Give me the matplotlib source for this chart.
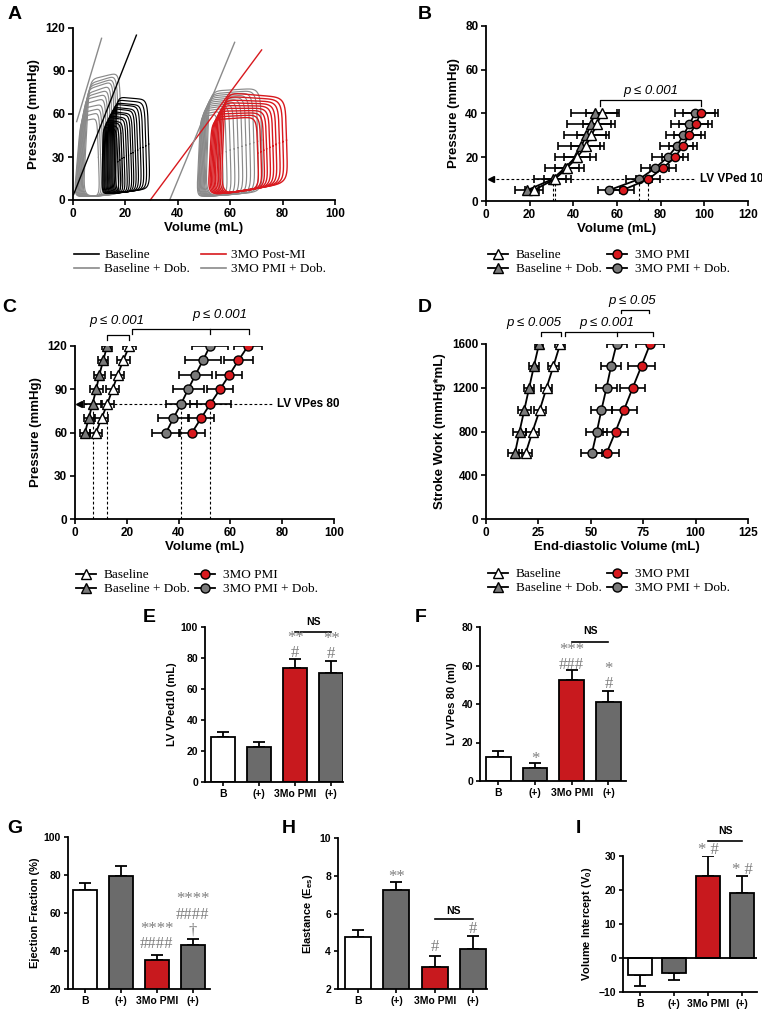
import numpy as np
import matplotlib
matplotlib.use('Agg')
import matplotlib.pyplot as plt
from matplotlib.lines import Line2D

W, H = 762, 1011
plt.rcParams['font.family'] = ['Liberation Sans', 'DejaVu Sans']
plt.rcParams['font.weight'] = 'bold'
plt.rcParams['axes.labelweight'] = 'bold'
plt.rcParams['axes.linewidth'] = 1.3
plt.rcParams['xtick.major.width'] = 1.2
plt.rcParams['ytick.major.width'] = 1.2
plt.rcParams['xtick.major.size'] = 3.5
plt.rcParams['ytick.major.size'] = 3.5
plt.rcParams['xtick.major.pad'] = 2
plt.rcParams['ytick.major.pad'] = 2
SERIF = ['Liberation Serif', 'DejaVu Serif']

RED = '#d8191e'
RED_BAR = '#c8191e'
GRAY_LINE = '#8a8a8a'
GRAY_DOT = '#7a7a7a'
GRAY_BAR = '#6b6b6b'
STAR = '#7f7f7f'

# ---------------- data ----------------
# A: pressure-volume loops (left/right volume, top-left / top-right / end-diastolic pressure)
base_ves = [11.0, 11.3, 11.7, 12.0, 12.4, 12.8, 13.1, 13.5, 13.9, 14.3, 14.7, 15.1, 15.6, 16.1]
base_ved = [17.6, 18.4, 19.2, 20.0, 20.9, 21.7, 22.6, 23.4, 24.3, 25.2, 26.2, 27.2, 28.3, 29.4]
base_pes = [51, 53, 55, 56, 58, 59, 61, 62, 64, 65, 67, 68, 70, 72]
base_ptop = [49, 51, 53, 54, 56, 57, 59, 60, 62, 63, 65, 66, 68, 70]
base_ped = [4.6, 4.8, 5.0, 5.2, 5.4, 5.6, 5.9, 6.1, 6.4, 6.7, 7.0, 7.3, 7.7, 8.1]

dob_ves = [0.4, 0.7, 1.0, 1.3, 1.6, 1.9, 2.2, 2.5, 2.8, 3.1, 3.4, 3.8]
dob_ved = [10.2, 11.0, 11.8, 12.5, 13.3, 14.0, 14.8, 15.5, 16.3, 17.0, 17.8, 18.8]
dob_pes = [55, 58, 61, 64, 67, 70, 72, 74, 77, 79, 81, 84]
dob_ptop = [57, 61, 64, 67, 71, 74, 77, 80, 83, 85, 87, 89]
dob_ped = [2.5, 2.6, 2.8, 2.9, 3.0, 3.2, 3.3, 3.5, 3.6, 3.8, 4.0, 4.2]

pmi_ves = [51.5, 52.0, 52.5, 53.0, 53.5, 54.0, 54.6, 55.2, 55.8, 56.5]
pmi_ved = [71.0, 72.2, 73.3, 74.4, 75.6, 76.8, 78.0, 79.3, 80.6, 82.0]
pmi_pes = [56, 58, 60, 62, 64, 66, 68, 70, 72.5, 75]
pmi_ptop = [58, 59.5, 61, 62.5, 64, 65.5, 67, 68.5, 70, 71.5]
pmi_ped = [7.5, 8.0, 8.5, 9.0, 9.5, 10.0, 10.5, 11.0, 11.5, 12.0]

pmid_ves = [47.2, 47.5, 47.8, 48.0, 48.3, 48.6, 48.9, 49.2, 49.5, 49.8, 50.2, 50.6]
pmid_ved = [56.0, 57.5, 59.0, 60.5, 62.0, 63.5, 65.0, 66.5, 68.0, 69.5, 71.0, 72.5]
pmid_pes = [58, 60, 62, 63.5, 65, 66.5, 68, 69.5, 71, 72.5, 74, 76]
pmid_ptop = [60, 62, 64, 66, 67.5, 69, 70.5, 72, 73.5, 75, 76.5, 78]
pmid_ped = [3.0, 3.2, 3.4, 3.6, 3.8, 4.0, 4.3, 4.6, 4.9, 5.2, 5.5, 5.8]

# ESPVR lines (volume, pressure at both ends)
espvr_v = [[0.2, 24.2], [1.4, 10.9], [29.5, 72.0], [36.9, 61.7]]
espvr_p = [[3.7, 115.0], [54.7, 112.8], [0.0, 104.7], [0.0, 110.0]]

# B: EDPVR
b_pres = [5, 10, 15, 20, 25, 30, 35, 40]
b_base = [22.0, 31.5, 37.0, 41.8, 45.6, 48.3, 50.8, 53.0]
b_base_err = [4.0, 5.0, 5.5, 6.0, 6.5, 6.5, 6.5, 7.0]
b_dob = [19.0, 30.5, 36.0, 41.0, 43.6, 46.0, 48.0, 49.8]
b_dob_err = [5.5, 8.5, 9.0, 9.5, 10.5, 10.5, 11.0, 11.0]
b_pmi = [62.6, 74.4, 80.9, 86.6, 90.1, 93.1, 96.0, 98.3]
b_pmi_err = [5.0, 5.5, 6.0, 6.0, 6.5, 7.0, 7.5, 8.0]
b_pmid = [56.5, 70.2, 77.4, 83.2, 87.3, 90.4, 93.1, 95.7]
b_pmid_err = [5.0, 6.0, 6.5, 7.0, 7.5, 8.0, 8.5, 9.0]

# C: ESPVR
c_pres = [60, 70, 80, 90, 100, 110, 120]
c_base = [8.1, 10.3, 12.5, 14.5, 16.5, 18.6, 21.0]
c_base_err = [2.5, 2.5, 2.5, 2.5, 2.5, 2.5, 2.5]
c_dob = [3.9, 5.3, 6.8, 8.2, 9.4, 10.9, 12.4]
c_dob_err = [2.0, 2.0, 3.5, 2.5, 2.0, 2.0, 2.0]
c_pmi = [45.2, 48.7, 52.3, 56.0, 59.6, 63.1, 66.8]
c_pmi_err = [5.0, 5.0, 8.0, 5.0, 5.0, 5.5, 5.5]
c_pmid = [35.2, 38.0, 41.0, 43.7, 46.5, 49.4, 52.1]
c_pmid_err = [5.5, 6.0, 6.0, 6.0, 6.5, 7.0, 7.0]

# D: PRSW
d_sw = [600, 800, 1000, 1200, 1400, 1600]
d_base = [18.9, 22.2, 25.7, 28.9, 32.2, 35.4]
d_base_err = [3.0, 3.0, 3.0, 2.5, 2.5, 2.5]
d_dob = [13.8, 16.0, 18.3, 20.6, 22.9, 25.3]
d_dob_err = [3.5, 3.0, 3.0, 2.5, 2.5, 2.0]
d_pmi = [57.5, 61.8, 65.9, 70.0, 74.2, 78.3]
d_pmi_err = [6.0, 6.0, 6.0, 6.0, 6.5, 6.5]
d_pmid = [50.5, 52.9, 55.1, 57.5, 59.7, 62.3]
d_pmid_err = [5.0, 5.0, 5.0, 5.0, 4.8, 4.8]

# E-I: bar charts
bar_labels = ['B', '(+)', '3Mo PMI', '(+)']
bar_colors = ['white', GRAY_BAR, RED_BAR, GRAY_BAR]
e_vals = [29.0, 22.5, 73.5, 70.5]
e_err = [3.5, 3.5, 6.0, 7.5]
f_vals = [12.5, 7.0, 52.5, 41.0]
f_err = [3.0, 2.5, 5.0, 6.0]
g_vals = [72.0, 79.5, 35.5, 43.0]
g_err = [4.0, 5.0, 2.5, 3.5]
h_vals = [4.75, 7.25, 3.15, 4.1]
h_err = [0.4, 0.4, 0.6, 0.7]
i_vals = [-5.0, -4.5, 24.0, 19.0]
i_err = [3.3, 2.0, 6.0, 5.0]

leg_labels = ['Baseline', 'Baseline + Dob.', '3MO PMI', '3MO PMI + Dob.']

fig = plt.figure(figsize=(W / 100, H / 100), dpi=100)


def add_ax(l, t, r, b):
    ax = fig.add_axes([l / W, 1 - b / H, (r - l) / W, (b - t) / H])
    ax.spines['top'].set_visible(False)
    ax.spines['right'].set_visible(False)
    return ax


def letter(x, y, s):
    fig.text(x / W, 1 - y / H, s, fontsize=14, weight='bold', va='top', ha='left')


def pv_loop(ax, ves, ved, pes, ptop, ped, pmin, shift, color, lw=0.85, sq=0.3):
    t = np.linspace(0, 2 * np.pi, 300)
    c, s = np.cos(t), np.sin(t)
    u = (np.sign(c) * np.abs(c) ** sq + 1) / 2
    v = (np.sign(s) * np.abs(s) ** sq + 1) / 2
    bl = np.array([ves, pmin])
    br = np.array([ved, ped])
    tr = np.array([ved - 1.0, ptop])
    tl = np.array([ves + shift, pes])
    pts = (((1 - u) * (1 - v))[:, None] * bl + (u * (1 - v))[:, None] * br
           + (u * v)[:, None] * tr + ((1 - u) * v)[:, None] * tl)
    ax.plot(pts[:, 0], pts[:, 1], color=color, lw=lw)


def style_ticks(ax, size=8.5):
    ax.tick_params(labelsize=size)
    for lab in ax.get_xticklabels() + ax.get_yticklabels():
        lab.set_fontweight('bold')


def bracket(ax, x1, x2, y, drop, mids=()):
    ax.plot([x1, x1, x2, x2], [y - drop, y, y, y - drop], color='black', lw=0.9, clip_on=False)
    for m in mids:
        ax.plot([m, m], [y, y - drop], color='black', lw=0.9, clip_on=False)


def pval(ax, x, y, s):
    ax.text(x, y, s, ha='center', va='bottom', fontsize=9.5, style='italic',
            weight='normal', clip_on=False)


def series(ax, xs, ys, errs, marker, face, ms):
    ax.errorbar(xs, ys, xerr=errs, fmt='none', ecolor='black', elinewidth=1.2,
                capsize=3, capthick=1.2, zorder=2)
    ax.plot(xs, ys, color='black', lw=1.3, marker=marker, mfc=face, mec='black',
            ms=ms, mew=1.0, zorder=3)


def legend_markers(x, y):
    hs = [Line2D([], [], color='black', lw=1.3, marker='^', mfc='white', mec='black', ms=6.5),
          Line2D([], [], color='black', lw=1.3, marker='^', mfc=GRAY_DOT, mec='black', ms=6.5),
          Line2D([], [], color='black', lw=1.3, marker='o', mfc=RED, mec='black', ms=6.5),
          Line2D([], [], color='black', lw=1.3, marker='o', mfc=GRAY_DOT, mec='black', ms=6.5)]
    fig.legend(hs, leg_labels, loc='upper left', bbox_to_anchor=(x / W, 1 - y / H),
               ncol=2, frameon=False, prop={'family': SERIF, 'size': 9.5, 'weight': 'normal'},
               handlelength=1.5, handletextpad=0.6, columnspacing=0.4, labelspacing=0.15,
               borderpad=0, borderaxespad=0)


# ---------------- A ----------------
ax = add_ax(73, 28, 335, 200)
for i in range(len(dob_ves)):
    pv_loop(ax, dob_ves[i], dob_ved[i], dob_pes[i], dob_ptop[i], dob_ped[i], 2.5, 2.5, GRAY_LINE)
for i in range(len(base_ves)):
    pv_loop(ax, base_ves[i], base_ved[i], base_pes[i], base_ptop[i], base_ped[i], 4.5, 0.5, 'black')
for i in range(len(pmid_ves)):
    pv_loop(ax, pmid_ves[i], pmid_ved[i], pmid_pes[i], pmid_ptop[i], pmid_ped[i], 2.5, 1.5, GRAY_LINE)
for i in range(len(pmi_ves)):
    pv_loop(ax, pmi_ves[i], pmi_ved[i], pmi_pes[i], pmi_ptop[i], pmi_ped[i], 3.5, 1.5, RED, lw=1.0)
for vv, pp, col in zip(espvr_v, espvr_p, ['black', GRAY_LINE, RED, GRAY_LINE]):
    ax.plot(vv, pp, color=col, lw=1.0, clip_on=False)
ax.set_xlim(0, 100)
ax.set_ylim(0, 120)
ax.set_xticks(range(0, 101, 20))
ax.set_yticks(range(0, 121, 30))
ax.set_xlabel('Volume (mL)', fontsize=9.5, labelpad=2)
ax.set_ylabel('Pressure (mmHg)', fontsize=9.5, labelpad=4)
style_ticks(ax)
letter(8, 6, 'A')
hs = [Line2D([], [], color='black', lw=1.2), Line2D([], [], color=GRAY_LINE, lw=1.2),
      Line2D([], [], color=RED, lw=1.2), Line2D([], [], color=GRAY_LINE, lw=1.2)]
fig.legend(hs, ['Baseline', 'Baseline + Dob.', '3MO Post-MI', '3MO PMI + Dob.'],
           loc='upper left', bbox_to_anchor=(74 / W, 1 - 249 / H), ncol=2, frameon=False,
           prop={'family': SERIF, 'size': 9.5, 'weight': 'normal'}, handlelength=1.9,
           handletextpad=0.4, columnspacing=0.8, labelspacing=0.15, borderpad=0, borderaxespad=0)

# ---------------- B ----------------
ax = add_ax(486, 26, 748, 201)
dash = (0, (2.5, 2))
ax.plot([2.5, 96], [10, 10], color='black', lw=0.8, ls=dash, clip_on=False)
ax.plot([2.5], [10], marker='<', color='black', ms=5, clip_on=False)
for s in [b_base, b_dob, b_pmi, b_pmid]:
    ax.plot([s[1], s[1]], [0, 10], color='black', lw=0.8, ls=dash)
ax.text(98, 10, 'LV VPed 10', fontsize=8.5, weight='bold', va='center', clip_on=False)
series(ax, b_dob, b_pres, b_dob_err, '^', GRAY_DOT, 6.5)
series(ax, b_base, b_pres, b_base_err, '^', 'white', 6.5)
series(ax, b_pmid, b_pres, b_pmid_err, 'o', GRAY_DOT, 6)
series(ax, b_pmi, b_pres, b_pmi_err, 'o', RED, 6)
bracket(ax, 52, 98.5, 46, 2.5)
pval(ax, 75.5, 47.5, 'p ≤ 0.001')
ax.set_xlim(0, 120)
ax.set_ylim(0, 80)
ax.set_xticks(range(0, 121, 20))
ax.set_yticks(range(0, 81, 20))
ax.set_xlabel('Volume (mL)', fontsize=9.5, labelpad=2)
ax.set_ylabel('Pressure (mmHg)', fontsize=9.5, labelpad=4)
style_ticks(ax)
letter(418, 6, 'B')
legend_markers(488, 249)

# ---------------- C ----------------
ax = add_ax(75, 346, 334, 519)
ax.plot([1.5, 76], [80, 80], color='black', lw=0.8, ls=dash, clip_on=False)
ax.plot([1.5], [80], marker='<', color='black', ms=5, clip_on=False)
for s in [c_base, c_dob, c_pmi, c_pmid]:
    ax.plot([s[2], s[2]], [0, 80], color='black', lw=0.8, ls=dash)
ax.text(78, 80, 'LV VPes 80', fontsize=8.5, weight='bold', va='center', clip_on=False)
series(ax, c_dob, c_pres, c_dob_err, '^', GRAY_DOT, 6.5)
series(ax, c_base, c_pres, c_base_err, '^', 'white', 6.5)
series(ax, c_pmid, c_pres, c_pmid_err, 'o', GRAY_DOT, 6.5)
series(ax, c_pmi, c_pres, c_pmi_err, 'o', RED, 6.5)
bracket(ax, 12.5, 21, 127.5, 3.5)
bracket(ax, 22, 67, 132, 4, mids=[52.3])
pval(ax, 16, 133, 'p ≤ 0.001')
pval(ax, 56, 137, 'p ≤ 0.001')
ax.set_xlim(0, 100)
ax.set_ylim(0, 120)
ax.set_xticks(range(0, 101, 20))
ax.set_yticks(range(0, 121, 30))
ax.set_xlabel('Volume (mL)', fontsize=9.5, labelpad=2)
ax.set_ylabel('Pressure (mmHg)', fontsize=9.5, labelpad=4)
style_ticks(ax)
letter(2, 299, 'C')
legend_markers(76, 569)

# ---------------- D ----------------
ax = add_ax(486, 344, 748, 519)
series(ax, d_dob, d_sw, d_dob_err, '^', GRAY_DOT, 6.5)
series(ax, d_base, d_sw, d_base_err, '^', 'white', 6.5)
series(ax, d_pmid, d_sw, d_pmid_err, 'o', GRAY_DOT, 6.5)
series(ax, d_pmi, d_sw, d_pmi_err, 'o', RED, 6.5)
bracket(ax, 26.3, 36, 1712, 35)
bracket(ax, 37.6, 79.5, 1712, 35, mids=[62.3])
bracket(ax, 64.2, 77.8, 1914, 35)
pval(ax, 22.8, 1735, 'p ≤ 0.005')
pval(ax, 57.5, 1735, 'p ≤ 0.001')
pval(ax, 69.5, 1940, 'p ≤ 0.05')
ax.set_xlim(0, 125)
ax.set_ylim(0, 1600)
ax.set_xticks(range(0, 126, 25))
ax.set_yticks(range(0, 1601, 400))
ax.set_xlabel('End-diastolic Volume (mL)', fontsize=9.5, labelpad=2)
ax.set_ylabel('Stroke Work (mmHg*mL)', fontsize=9.5, labelpad=4)
style_ticks(ax)
letter(418, 299, 'D')
legend_markers(488, 568)


# ---------------- bar panels ----------------
def bar_panel(rect, vals, errs, xlim, ylim, yticks, ylabel):
    ax = add_ax(*rect)
    x = np.arange(len(vals))
    lower = [e if v < 0 else 0 for v, e in zip(vals, errs)]
    upper = [0 if v < 0 else e for v, e in zip(vals, errs)]
    ax.errorbar(x, vals, yerr=[lower, upper], fmt='none', ecolor='black', elinewidth=1.3,
                capsize=4, capthick=1.3, zorder=1)
    ax.bar(x, vals, width=0.68, color=bar_colors, edgecolor='black', lw=1.3, zorder=2)
    ax.set_xlim(*xlim)
    ax.set_ylim(*ylim)
    ax.set_yticks(yticks)
    ax.set_xticks(x)
    ax.set_xticklabels(bar_labels)
    ax.set_ylabel(ylabel, fontsize=8, labelpad=3)
    ax.tick_params(length=3, labelsize=7.5)
    for lab in ax.get_xticklabels() + ax.get_yticklabels():
        lab.set_fontweight('bold')
    return ax


def mark(ax, i, y, s, size=12):
    ax.text(i, y, s, ha='center', va='center', color=STAR, family=SERIF, fontsize=size,
            weight='normal', linespacing=0.95, clip_on=False)


def ns(ax, y, ytxt):
    ax.plot([2, 3], [y, y], color='black', lw=1.2, clip_on=False)
    ax.text(2.5, ytxt, 'NS', ha='center', va='center', fontsize=7.5, weight='bold', clip_on=False)


# E
ax = bar_panel((205, 627, 343, 782), e_vals, e_err, (-0.5, 3.33), (0, 100), range(0, 101, 20),
               'LV VPed10 (mL)')
mark(ax, 2, 88.0, '**\n#')
mark(ax, 3, 87.5, '**\n#')
ns(ax, 96.5, 103.5)
letter(143, 609, 'E')

# F
ax = bar_panel((480, 627, 626, 781), f_vals, f_err, (-0.5, 3.48), (0, 80), range(0, 81, 20),
               'LV VPes 80 (ml)')
mark(ax, 1, 11.5, '*')
mark(ax, 2, 64.3, '***\n###')
mark(ax, 3, 54.3, '*\n#')
ns(ax, 72.4, 78)
letter(415, 609, 'F')

# G
ax = bar_panel((68, 837, 210, 989), g_vals, g_err, (-0.47, 3.48), (20, 100), range(20, 101, 20),
               'Ejection Fraction (%)')
mark(ax, 2, 47.6, '****\n####')
mark(ax, 3, 59.0, '****\n####\n†')
letter(7, 820, 'G')

# H
ax = bar_panel((338, 838, 487, 989), h_vals, h_err, (-0.53, 3.37), (2, 10), range(2, 11, 2),
               r'Elastance (E$_\mathregular{es}$)')
mark(ax, 1, 7.95, '**')
mark(ax, 2, 4.25, '#')
mark(ax, 3, 5.2, '#')
ns(ax, 5.72, 6.15)
letter(282, 820, 'H')

# I
ax = bar_panel((623, 856, 757, 992), i_vals, i_err, (-0.5, 3.44), (-10, 30), range(-10, 31, 10),
               r'Volume Intercept (V$_\mathregular{0}$)')
ax.axhline(0, color='black', lw=1.3, zorder=3)
mark(ax, 2, 31.9, '* #')
mark(ax, 3, 25.9, '* #')
ns(ax, 34.4, 37.3)
letter(576, 820, 'I')

fig.savefig('out.png', dpi=100)
